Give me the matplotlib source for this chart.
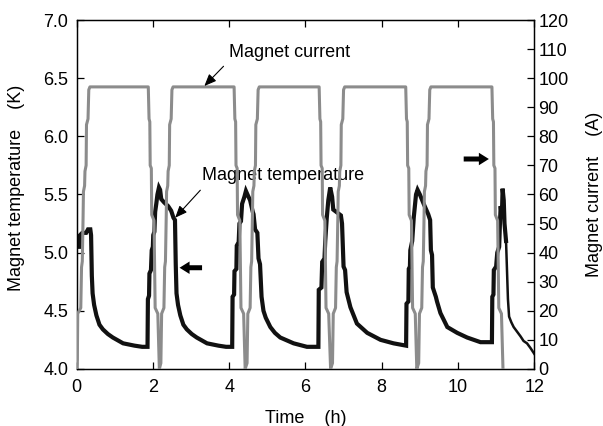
import matplotlib
matplotlib.use("Agg")
import matplotlib.pyplot as plt

plt.rcParams['font.family'] = ['Liberation Sans', 'DejaVu Sans']

# ---- Magnet current (A) vs time (h) ----
current_t = [
    0.00, 0.02, 0.03, 0.11, 0.13, 0.15, 0.17, 0.18, 0.21, 0.22, 0.25, 0.26, 0.30, 0.32, 0.35,
    1.88, 1.90, 1.92, 1.93, 1.96, 1.97, 2.03, 2.06, 2.13, 2.17,
    2.21, 2.23, 2.29, 2.31, 2.33, 2.35, 2.36, 2.39, 2.40, 2.43, 2.44, 2.48, 2.50, 2.53,
    4.13, 4.15, 4.17, 4.18, 4.21, 4.22, 4.28, 4.31, 4.38, 4.42,
    4.47, 4.49, 4.55, 4.57, 4.59, 4.61, 4.62, 4.65, 4.66, 4.69, 4.70, 4.74, 4.76, 4.79,
    6.36, 6.38, 6.40, 6.41, 6.44, 6.45, 6.51, 6.54, 6.61, 6.66,
    6.71, 6.73, 6.79, 6.81, 6.83, 6.85, 6.86, 6.89, 6.90, 6.93, 6.94, 6.98, 7.00, 7.03,
    8.63, 8.65, 8.67, 8.68, 8.71, 8.72, 8.78, 8.81, 8.88, 8.92,
    8.97, 8.99, 9.05, 9.07, 9.09, 9.11, 9.12, 9.15, 9.16, 9.19, 9.20, 9.24, 9.26, 9.29,
    10.89, 10.91, 10.93, 10.94, 10.97, 10.98, 11.04, 11.07, 11.14, 11.18,
]
current_a = [
    0, 3, 19, 21, 35, 37, 52, 61, 63, 68, 70, 84, 86, 96, 97,
    97, 86, 85, 70, 69, 53, 51, 21, 19, 0,
    2, 19, 21, 35, 37, 52, 61, 63, 68, 70, 84, 86, 96, 97,
    97, 86, 85, 70, 69, 53, 51, 21, 19, 0,
    2, 19, 21, 35, 37, 52, 61, 63, 68, 70, 84, 86, 96, 97,
    97, 86, 85, 70, 69, 53, 51, 21, 19, 0,
    2, 19, 21, 35, 37, 52, 61, 63, 68, 70, 84, 86, 96, 97,
    97, 86, 85, 70, 69, 53, 51, 21, 19, 0,
    2, 19, 21, 35, 37, 52, 61, 63, 68, 70, 84, 86, 96, 97,
    97, 86, 85, 70, 69, 53, 51, 21, 19, 0,
]

# ---- Magnet temperature (K) vs time (h) ----
temp_t = [
    0.09, 0.09, 0.15, 0.25, 0.30, 0.36, 0.38, 0.40, 0.42, 0.46, 0.52, 0.60, 0.69, 0.82, 0.95, 1.22, 1.52, 1.72, 1.86,
    1.87, 1.90, 1.91, 1.95, 1.97, 2.00, 2.01, 2.04, 2.06, 2.09, 2.12, 2.16, 2.19, 2.22, 2.30, 2.40, 2.48, 2.54, 2.58, 2.60, 2.62,
    2.66, 2.72, 2.80, 2.89, 3.02, 3.15, 3.42, 3.72, 3.92, 4.08,
    4.09, 4.13, 4.14, 4.19, 4.20, 4.25, 4.27, 4.31, 4.34, 4.40, 4.44, 4.48, 4.55, 4.62, 4.64, 4.68, 4.74, 4.77, 4.81, 4.85,
    4.90, 4.96, 5.08, 5.20, 5.34, 5.69, 6.04, 6.34,
    6.35, 6.42, 6.44, 6.50, 6.52, 6.56, 6.60, 6.65, 6.70, 6.73, 6.85, 6.93, 6.96, 7.00, 7.04, 7.08,
    7.18, 7.35, 7.62, 7.97, 8.31, 8.64,
    8.65, 8.70, 8.71, 8.74, 8.75, 8.80, 8.84, 8.90, 8.94, 9.00, 9.10, 9.22, 9.27, 9.29, 9.32, 9.34, 9.42, 9.45,
    9.54, 9.72, 9.98, 10.24, 10.59, 10.89,
    10.90, 10.93, 10.94, 11.00, 11.03, 11.08, 11.10, 11.12, 11.15, 11.17, 11.20, 11.22, 11.26,
]
temp_k = [
    5.05, 5.15, 5.17, 5.17, 5.20, 5.20, 5.15, 4.80, 4.65, 4.55, 4.46, 4.38, 4.34, 4.30, 4.27, 4.22, 4.20, 4.19, 4.19,
    4.60, 4.63, 4.82, 4.85, 5.02, 5.05, 5.15, 5.18, 5.35, 5.42, 5.50, 5.56, 5.54, 5.46, 5.43, 5.40, 5.36, 5.30, 5.28, 4.90, 4.65,
    4.55, 4.46, 4.38, 4.34, 4.30, 4.27, 4.22, 4.20, 4.19, 4.19,
    4.62, 4.64, 4.84, 4.86, 5.06, 5.09, 5.25, 5.27, 5.42, 5.48, 5.53, 5.50, 5.45, 5.35, 5.33, 5.20, 5.17, 4.95, 4.90, 4.62,
    4.50, 4.44, 4.36, 4.31, 4.27, 4.22, 4.19, 4.19,
    4.68, 4.70, 4.92, 4.95, 5.10, 5.30, 5.45, 5.56, 5.48, 5.37, 5.34, 5.32, 5.25, 4.88, 4.85, 4.66,
    4.53, 4.39, 4.31, 4.25, 4.22, 4.20,
    4.56, 4.58, 4.86, 4.88, 5.02, 5.10, 5.30, 5.50, 5.54, 5.50, 5.42, 5.33, 5.28, 5.02, 4.98, 4.70, 4.62, 4.58,
    4.48, 4.36, 4.31, 4.27, 4.23, 4.23,
    4.62, 4.64, 4.85, 4.88, 5.00, 5.05, 5.25, 5.40, 5.30, 5.55, 5.45, 5.25, 5.10,
]
# final cool-down tail (thinner trace)
tail_t = [11.26, 11.29, 11.31, 11.34, 11.40, 11.46, 11.55, 11.64, 11.72, 11.81, 11.90, 12.00]
tail_k = [5.10, 4.80, 4.60, 4.45, 4.40, 4.36, 4.32, 4.28, 4.24, 4.22, 4.18, 4.13]

x_ticks = [0, 2, 4, 6, 8, 10, 12]
temp_ticks = [4.0, 4.5, 5.0, 5.5, 6.0, 6.5, 7.0]
current_ticks = list(range(0, 121, 10))

FS = 13

fig = plt.figure(figsize=(6.03, 4.26), dpi=100)
ax = fig.add_axes([0.127, 0.134, 0.759, 0.819])
ax2 = ax.twinx()

ax.plot(temp_t, temp_k, color='#111111', lw=3.0, solid_joinstyle='miter', zorder=2)
ax.plot(tail_t, tail_k, color='#111111', lw=1.8, zorder=2)
ax2.plot(current_t, current_a, color='#8c8c8c', lw=2.2, zorder=3)

ax.set_xlim(0, 12)
ax.set_ylim(4.0, 7.0)
ax2.set_ylim(0, 120)

ax.set_xticks(x_ticks)
ax.set_xticklabels([str(v) for v in x_ticks])
ax.set_yticks(temp_ticks)
ax.set_yticklabels([f"{v:.1f}" for v in temp_ticks])
ax2.set_yticks(current_ticks)
ax2.set_yticklabels([str(v) for v in current_ticks])

ax.tick_params(axis='both', direction='in', length=5, width=0.9, labelsize=FS,
               top=True, right=False)
ax.tick_params(axis='x', pad=7)
ax.tick_params(axis='y', pad=6)
ax2.tick_params(axis='y', direction='in', length=5, width=0.9, labelsize=FS, pad=3)

for a in (ax, ax2):
    for s in a.spines.values():
        s.set_linewidth(0.9)

ax.set_xlabel("Time    (h)", fontsize=FS)
ax.set_ylabel("Magnet temperature    (K)", fontsize=FS)
ax2.set_ylabel("Magnet current    (A)", fontsize=FS, rotation=90)
ax.xaxis.set_label_coords(0.5, -0.118)
ax.yaxis.set_label_coords(-0.112, 0.52)
ax2.yaxis.set_label_coords(1.112, 0.5)

# annotations
ax2.annotate("Magnet current", xy=(3.35, 97.3), xytext=(4.0, 109),
             fontsize=FS, va='center', ha='left',
             arrowprops=dict(arrowstyle='-|>,head_length=0.6,head_width=0.25',
                             color='black', lw=0.8, shrinkA=3, shrinkB=0,
                             relpos=(0.0, 0.0), mutation_scale=12),
             zorder=5)
ax.annotate("Magnet temperature", xy=(2.585, 5.30), xytext=(3.30, 5.66),
            fontsize=FS, va='center', ha='left',
            arrowprops=dict(arrowstyle='-|>,head_length=0.6,head_width=0.25',
                            color='black', lw=0.8, shrinkA=3, shrinkB=0,
                            relpos=(0.02, 0.0), mutation_scale=12),
            zorder=5)

thick = dict(arrowstyle='simple,head_length=0.6,head_width=0.75,tail_width=0.3',
             color='black', lw=0, shrinkA=0, shrinkB=0, mutation_scale=12)
ax.annotate("", xy=(2.70, 4.87), xytext=(3.29, 4.87), arrowprops=thick)
ax.annotate("", xy=(10.81, 5.805), xytext=(10.15, 5.805), arrowprops=thick)

fig.savefig("out.png", dpi=100)
